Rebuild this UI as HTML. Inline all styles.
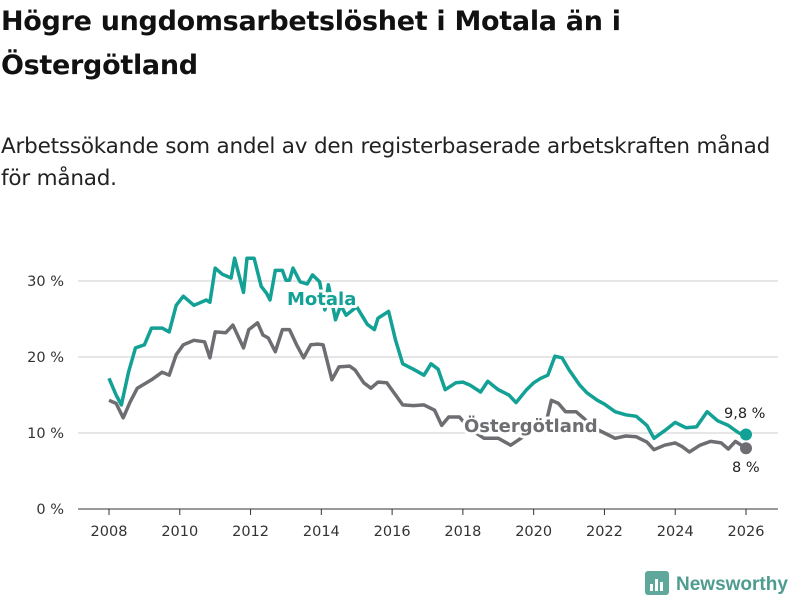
<!DOCTYPE html>
<html><head><meta charset="utf-8"><style>
body{margin:0;background:#fff;font-family:"DejaVu Sans","Liberation Sans",sans-serif;}
#wrap{position:relative;width:800px;height:600px;overflow:hidden;}
h1{position:absolute;left:1px;top:0px;margin:0;font-size:27px;line-height:44px;font-weight:bold;color:#111;white-space:nowrap;letter-spacing:-0.3px;}
.sub{position:absolute;left:1px;top:131px;margin:0;font-size:21.5px;line-height:32px;color:#222;white-space:nowrap;letter-spacing:-0.2px;}
svg text{font-family:"DejaVu Sans","Liberation Sans",sans-serif;}
</style></head><body><div id="wrap">
<h1>Högre ungdomsarbetslöshet i Motala än i<br>Östergötland</h1>
<p class="sub">Arbetssökande som andel av den registerbaserade arbetskraften månad<br>för månad.</p>
<svg id="chart" width="800" height="600" style="position:absolute;left:0;top:0"></svg>
</div>
<script>
const yTicks=[0,10,20,30];
const xTicks=[2008,2010,2012,2014,2016,2018,2020,2022,2024,2026];
const motalaX=[2008.0,2008.2,2008.35,2008.55,2008.75,2009.0,2009.2,2009.5,2009.7,2009.9,2010.1,2010.4,2010.6,2010.75,2010.85,2011.0,2011.2,2011.45,2011.55,2011.8,2011.9,2012.1,2012.3,2012.45,2012.55,2012.7,2012.9,2013.0,2013.1,2013.2,2013.4,2013.6,2013.75,2013.95,2014.1,2014.2,2014.4,2014.55,2014.7,2015.0,2015.3,2015.5,2015.6,2015.9,2016.1,2016.3,2016.6,2016.9,2017.1,2017.3,2017.5,2017.8,2018.0,2018.2,2018.5,2018.7,2019.0,2019.3,2019.5,2019.8,2020.0,2020.2,2020.4,2020.6,2020.8,2021.0,2021.3,2021.5,2021.8,2022.0,2022.3,2022.6,2022.9,2023.2,2023.4,2023.7,2024.0,2024.3,2024.6,2024.9,2025.2,2025.5,2025.8,2026.0];
const motalaV=[17.2,15,13.7,18,21.2,21.6,23.8,23.8,23.3,26.8,28,26.8,27.2,27.5,27.2,31.7,30.9,30.4,33,28.5,33,33,29.3,28.4,27.5,31.4,31.4,30.1,30.1,31.7,29.9,29.6,30.8,29.9,26.2,29.5,24.9,26.8,25.5,26.6,24.3,23.6,25.1,26,22.2,19.1,18.4,17.6,19.1,18.4,15.7,16.6,16.7,16.3,15.4,16.8,15.7,15,14,15.7,16.6,17.2,17.6,20.1,19.9,18.3,16.3,15.3,14.3,13.8,12.8,12.4,12.2,11,9.3,10.3,11.4,10.7,10.8,12.8,11.6,11,10,9.8];
const ostX=[2008.0,2008.2,2008.4,2008.6,2008.8,2009.2,2009.5,2009.7,2009.9,2010.1,2010.4,2010.7,2010.85,2011.0,2011.3,2011.5,2011.8,2011.95,2012.2,2012.35,2012.5,2012.7,2012.9,2013.1,2013.3,2013.5,2013.7,2013.9,2014.05,2014.3,2014.5,2014.8,2014.95,2015.2,2015.4,2015.6,2015.85,2016.1,2016.3,2016.6,2016.9,2017.2,2017.4,2017.6,2017.9,2018.2,2018.6,2019.0,2019.35,2019.7,2020.0,2020.3,2020.5,2020.7,2020.9,2021.2,2021.4,2021.7,2022.0,2022.3,2022.6,2022.9,2023.2,2023.4,2023.7,2024.0,2024.2,2024.4,2024.7,2025.0,2025.3,2025.5,2025.7,2026.0];
const ostV=[14.3,13.9,12,14.1,15.9,17,18,17.6,20.3,21.6,22.2,22,19.9,23.3,23.2,24.2,21.2,23.6,24.5,22.9,22.5,20.7,23.6,23.6,21.6,19.9,21.6,21.7,21.6,17,18.7,18.8,18.3,16.6,15.9,16.7,16.6,15,13.7,13.6,13.7,13,11,12.1,12.1,10.5,9.3,9.3,8.4,9.5,10.4,10.4,14.3,13.9,12.8,12.8,12,10.7,10,9.3,9.6,9.5,8.8,7.8,8.4,8.7,8.2,7.5,8.4,8.9,8.7,7.9,8.9,8];
const NS='http://www.w3.org/2000/svg';
const svg=document.getElementById('chart');
const xs=y=>109+(y-2008)*(746-109)/18;
const ys=v=>509-v*7.6;
function mk(t,a,p){const e=document.createElementNS(NS,t);for(const k in a)e.setAttribute(k,a[k]);(p||svg).appendChild(e);return e;}
yTicks.forEach(v=>{
 const l=mk('line',{x1:78,x2:778,y1:ys(v),y2:ys(v),stroke:v===0?'#333':'#ddd','stroke-width':v===0?1:1.5});
 
 
 const t=mk('text',{x:64,y:ys(v)+5,'text-anchor':'end','font-size':14.5,fill:'#333'});t.textContent=v+' %';
 
 
});
xTicks.forEach(y=>{
 const l=mk('line',{x1:xs(y),x2:xs(y),y1:509,y2:515,stroke:'#333'});
 
 
 const t=mk('text',{x:xs(y),y:536,'text-anchor':'middle','font-size':14.5,fill:'#333'});t.textContent=y;
 
 
});
function line(X,V,c,name){
 const d=X.map((x,i)=>(i?'L':'M')+xs(x).toFixed(1)+','+ys(V[i]).toFixed(1)).join('');
 const p=mk('path',{d:d,fill:'none',stroke:c,'stroke-width':3.5,'stroke-linejoin':'round'});
 
 
 const c2=mk('circle',{cx:xs(X[X.length-1]),cy:ys(V[V.length-1]),r:6,fill:c});
 
 
}
line(ostX,ostV,'#6e6d72','ostergotland');
line(motalaX,motalaV,'#13a195','motala');
function lab(txt,x,y,c,size,bold,name){
 const t=mk('text',{x:x,y:y,'font-size':size,'font-weight':bold?'bold':'normal',fill:c,stroke:'#fff','stroke-width':bold?6:4,'paint-order':'stroke','stroke-linejoin':'round'});t.textContent=txt;
 
 
}
lab('Motala',287,305,'#13a195',18,true,'motala-label');
lab('Östergötland',464,432,'#6e6d72',18,true,'ostergotland-label');
lab('9,8 %',724,418,'#222',14.5,false,'motala-end-value');
lab('8 %',732,472,'#222',14.5,false,'ostergotland-end-value');
const g=mk('g',{});


mk('rect',{x:645,y:571,width:24,height:24,rx:3,fill:'#5fa79a'},g);
[[650,584,3,7],[655,579,3,12],[660,582,3,9]].forEach(r=>mk('rect',{x:r[0],y:r[1],width:r[2],height:r[3],fill:'#fff'},g));
const lt=mk('text',{x:676,y:590,'font-size':19,'font-weight':'bold',fill:'#4e9c90',style:'font-family:"Liberation Sans",sans-serif'},g);lt.textContent='Newsworthy';
</script></body></html>
